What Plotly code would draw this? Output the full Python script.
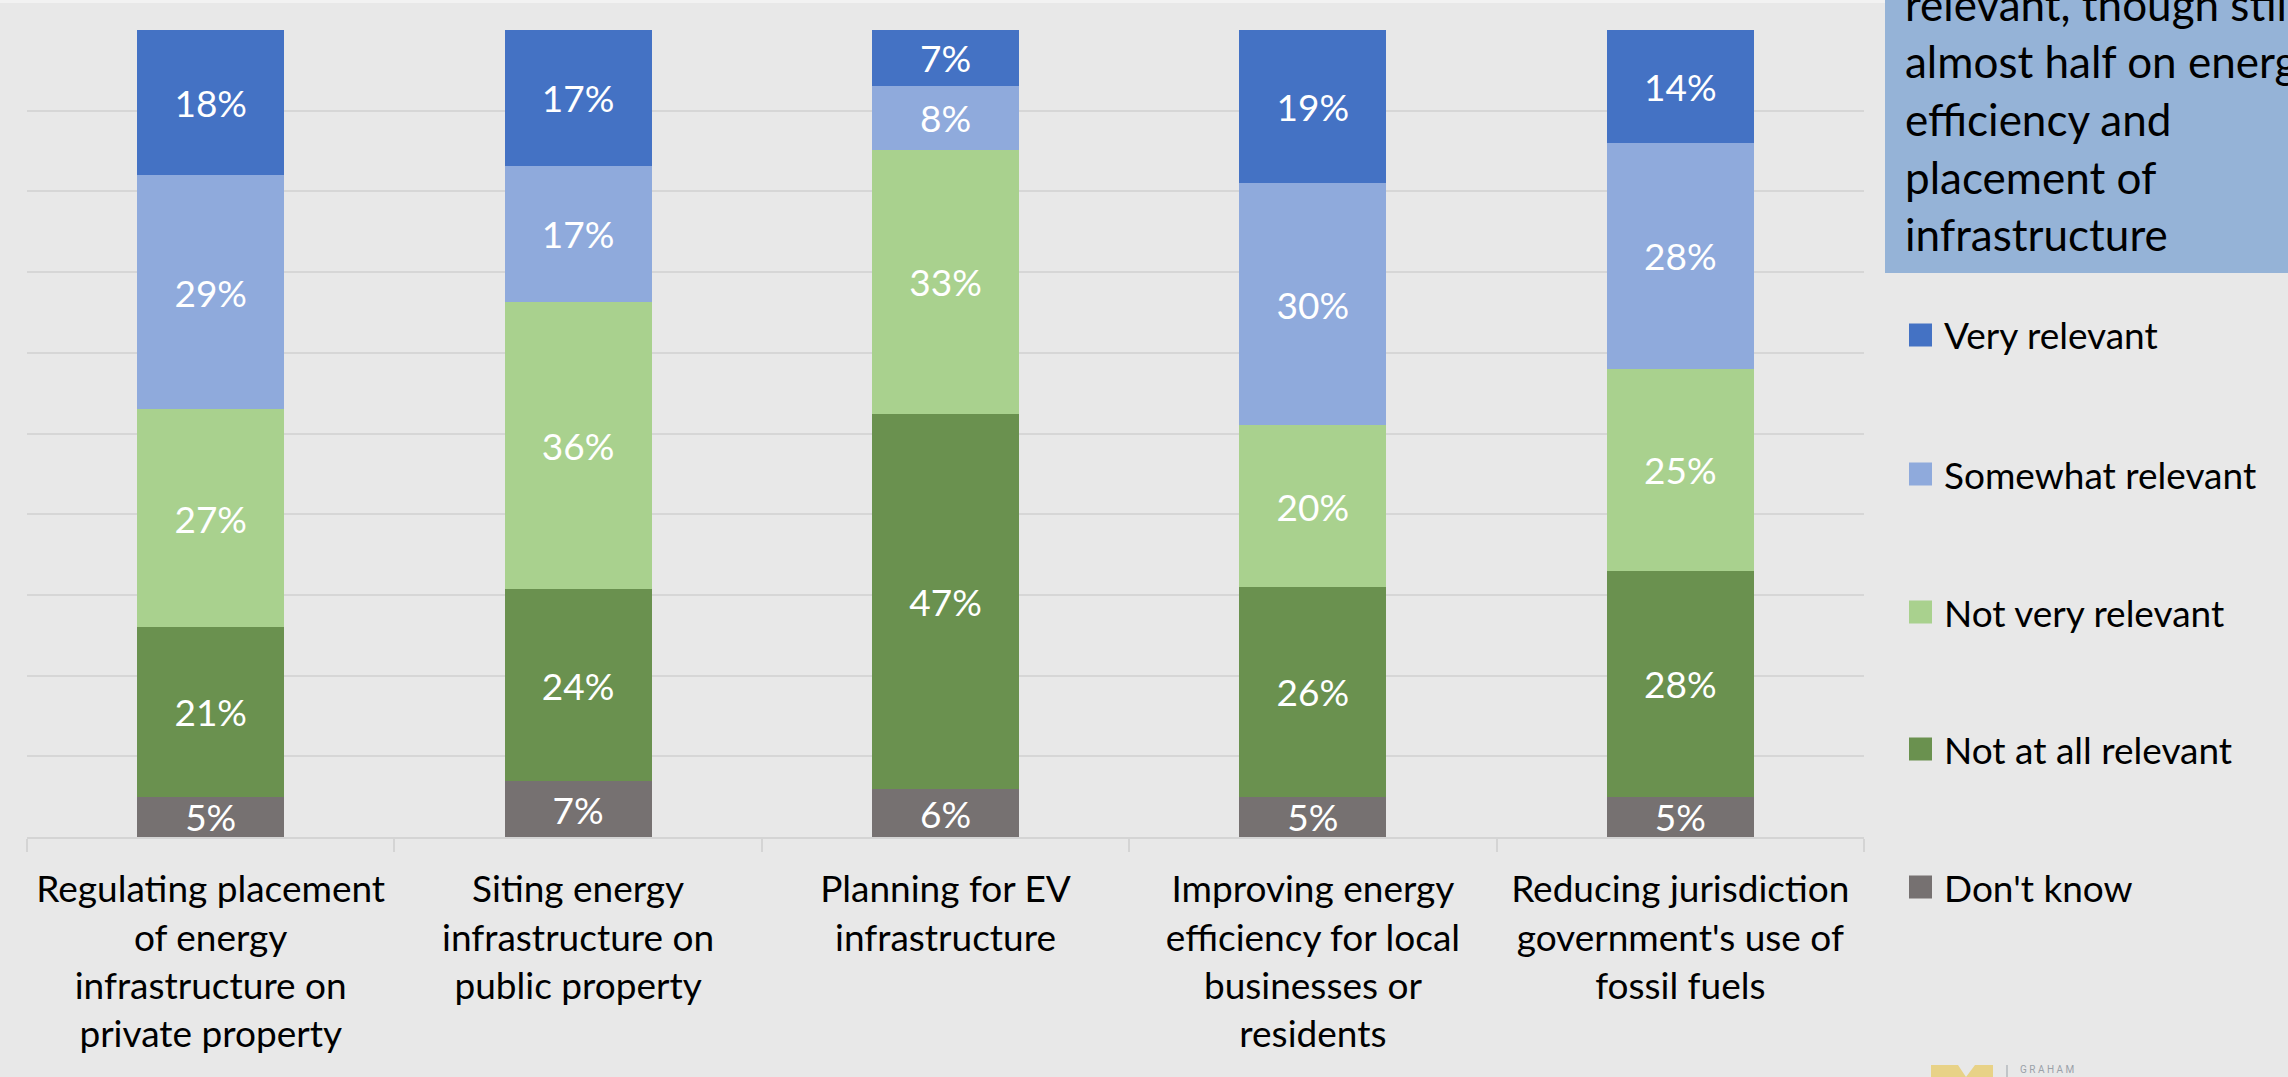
import plotly.graph_objects as go

# survey categories (x axis)
categories = [
    "Regulating placement<br>of energy<br>infrastructure on<br>private property",
    "Siting energy<br>infrastructure on<br>public property",
    "Planning for EV<br>infrastructure",
    "Improving energy<br>efficiency for local<br>businesses or<br>residents",
    "Reducing jurisdiction<br>government's use of<br>fossil fuels",
]

# shares per answer, stacked bottom -> top
dont_know = [5, 7, 6, 5, 5]
not_at_all = [21, 24, 47, 26, 28]
not_very = [27, 36, 33, 20, 25]
somewhat = [29, 17, 8, 30, 28]
very = [18, 17, 7, 19, 14]

series_names = ["Don't know", "Not at all relevant", "Not very relevant",
                "Somewhat relevant", "Very relevant"]
series_values = [dont_know, not_at_all, not_very, somewhat, very]
series_colors = ["#767171", "#6A914F", "#A9D18E", "#8FAADC", "#4472C4"]

# callout text (box is cut off by the slide edge)
box_lines = ["relevant, though still", "almost half on energy",
             "efficiency and", "placement of", "infrastructure"]

W, H = 2288, 1077
L, R, T, B = 27, 2288 - 1864, 30, 1077 - 837
FONT = "Lato"


def px_x(px):
    return (px - L) / (W - L - R)


def px_y(py):
    return (H - B - py) / (H - T - B)


fig = go.Figure()

for name, vals, color in zip(series_names, series_values, series_colors):
    fig.add_trace(go.Bar(
        x=categories,
        y=vals,
        name=name,
        marker=dict(color=color, line=dict(width=0)),
        text=[f"{v}%" for v in vals],
        textposition="inside",
        insidetextanchor="middle",
        constraintext="none",
        textfont=dict(family=FONT, size=37, color="white"),
        showlegend=False,
    ))

shapes = []
annotations = []

# top light strip
shapes.append(dict(type="rect", xref="paper", yref="paper",
                   x0=px_x(0), x1=px_x(W), y0=px_y(0), y1=px_y(3),
                   fillcolor="#F2F2F2", line=dict(width=0), layer="below"))

# callout box
shapes.append(dict(type="rect", xref="paper", yref="paper",
                   x0=px_x(1885), x1=px_x(W + 10), y0=px_y(-10), y1=px_y(273),
                   fillcolor="#95B3D7", line=dict(width=0)))
for i, line in enumerate(box_lines):
    annotations.append(dict(
        xref="paper", yref="paper", x=px_x(1903), y=px_y(17 + 57.5 * i - 13),
        xanchor="left", yanchor="middle", text=line, showarrow=False,
        font=dict(family=FONT, size=44, color="#000000"),
    ))

# legend (top item first)
leg_y = [335, 474, 612, 749, 887]
for name, color, cy in zip(series_names[::-1], series_colors[::-1], leg_y):
    shapes.append(dict(type="rect", xref="paper", yref="paper",
                       x0=px_x(1909), x1=px_x(1932),
                       y0=px_y(cy + 11.5), y1=px_y(cy - 11.5),
                       fillcolor=color, line=dict(width=0)))
    annotations.append(dict(
        xref="paper", yref="paper", x=px_x(1942), y=px_y(cy),
        xanchor="left", yanchor="middle", text=name, showarrow=False,
        font=dict(family=FONT, size=37, color="#000000"),
    ))

# logo fragment at the bottom
shapes.append(dict(type="path", xref="paper", yref="paper",
                   path=(f"M {px_x(1931)} {px_y(1080)} L {px_x(1931)} {px_y(1065)} "
                         f"L {px_x(1958)} {px_y(1065)} L {px_x(1966)} {px_y(1077)} "
                         f"L {px_x(1975)} {px_y(1065)} L {px_x(1993)} {px_y(1065)} "
                         f"L {px_x(1993)} {px_y(1080)} Z"),
                   fillcolor="#E8D287", line=dict(width=0)))
shapes.append(dict(type="line", xref="paper", yref="paper",
                   x0=px_x(2007), x1=px_x(2007), y0=px_y(1065), y1=px_y(1077),
                   line=dict(color="#9AA1A8", width=1)))
annotations.append(dict(
    xref="paper", yref="paper", x=px_x(2018), y=px_y(1069),
    xanchor="left", yanchor="middle", text="G R A H A M", showarrow=False,
    font=dict(family="Roboto", size=10, color="#9AA1A8"),
))

fig.update_layout(
    width=W, height=H,
    barmode="stack", barnorm="percent", bargap=0.6,
    paper_bgcolor="#E8E8E8", plot_bgcolor="#E8E8E8",
    margin=dict(l=L, r=R, t=T, b=B),
    showlegend=False,
    shapes=shapes,
    annotations=annotations,
    font=dict(family=FONT, color="#000000"),
)
fig.update_xaxes(
    showline=True, linecolor="#D4D4D4", linewidth=2,
    ticks="outside", tickson="boundaries", ticklen=13,
    tickcolor="#D4D4D4", tickwidth=2,
    tickfont=dict(family=FONT, size=37, color="#000000"),
    ticklabelstandoff=19,
)
fig.update_yaxes(
    range=[0, 100], dtick=10, showticklabels=False,
    showgrid=True, gridcolor="#D6D6D6", gridwidth=2,
    zeroline=False,
)

# drop the default page margin so the figure fills the window
fig.write_html("out.html", config={"displayModeBar": False},
               post_script="document.body.style.margin='0';")
